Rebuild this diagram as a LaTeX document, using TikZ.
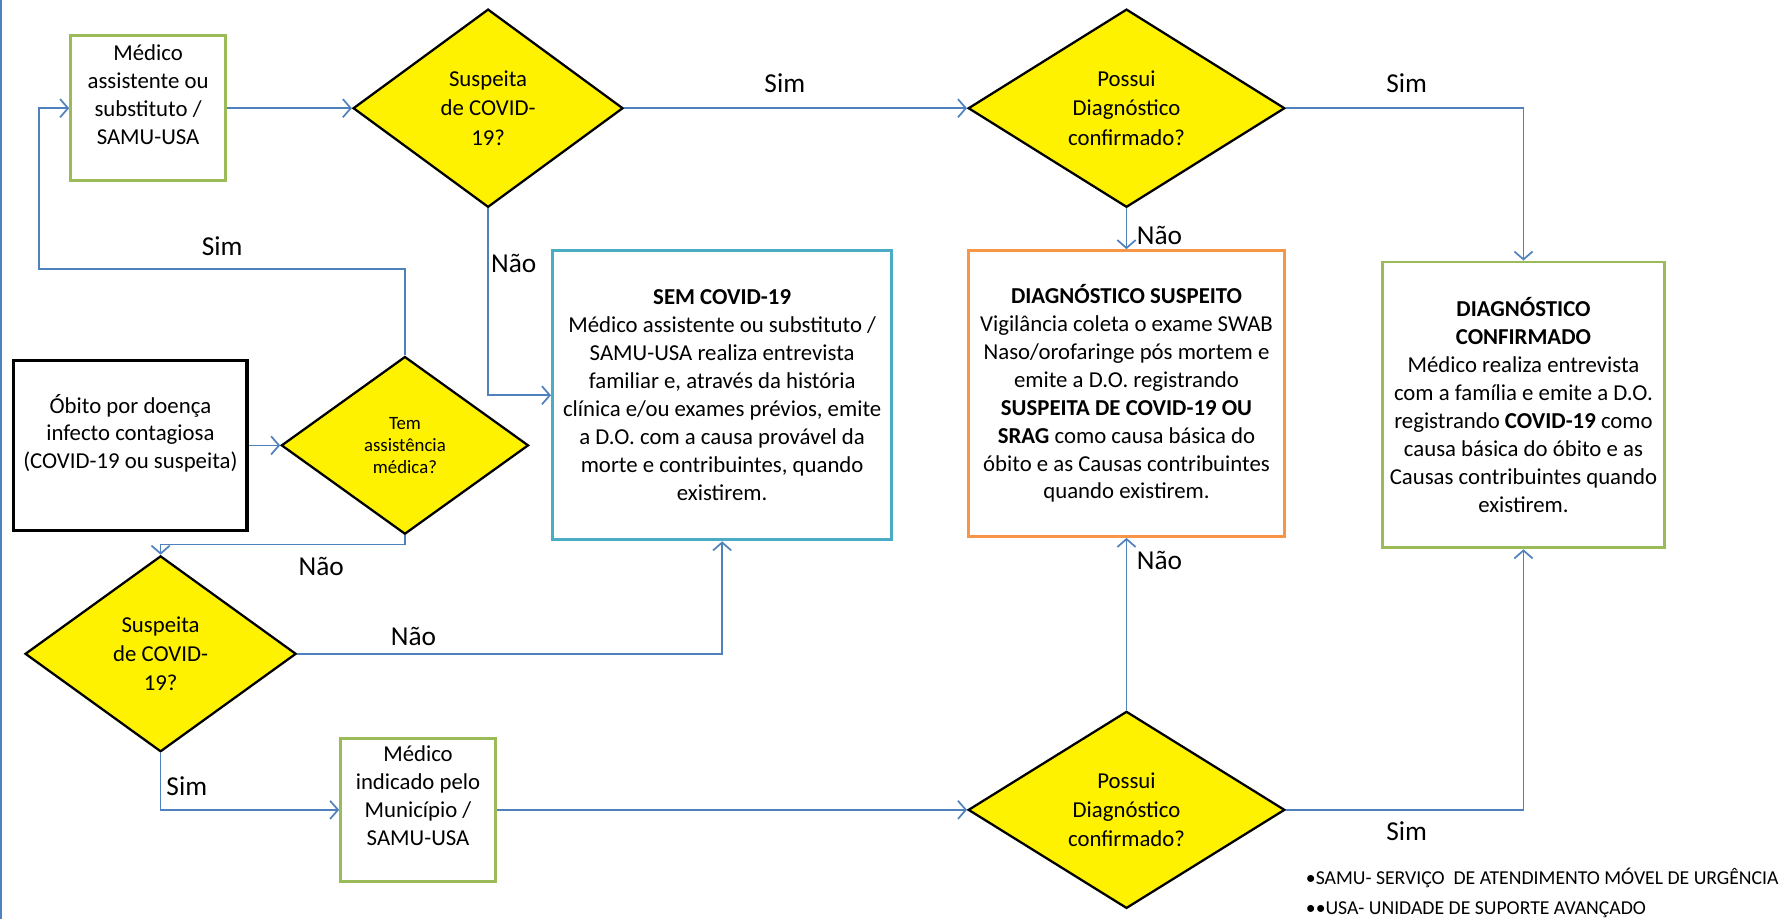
\documentclass[tikz,border=0pt]{standalone}
\usepackage{fontspec}
\setmainfont{Carlito}
\usetikzlibrary{shapes.geometric,arrows.meta}

\definecolor{linhaazul}{RGB}{79,129,189}
\definecolor{verde}{RGB}{155,187,89}
\definecolor{ciano}{RGB}{75,172,198}
\definecolor{laranja}{RGB}{247,150,70}

\tikzset{
  caixa/.style={draw, rectangle, line width=2.5pt, align=center, inner sep=0pt,
    font=\fontsize{20}{24.5}\selectfont},
  losango/.style={diamond, draw=black, line width=2pt, fill=yellow, inner sep=0pt,
    align=center, font=\fontsize{20}{25.5}\selectfont},
  seta/.style={draw=linhaazul, line width=1.5pt, -{Straight Barb[length=7pt,width=16pt]}},
  rotulo/.style={font=\fontsize{24}{28}\selectfont},
  nota/.style={anchor=west, font=\fontsize{17.3}{20}\selectfont},
}

\begin{document}
\begin{tikzpicture}[x=1pt, y=-1pt]
    \useasboundingbox (0,0) rectangle (1568,807);
    \draw[linhaazul, line width=1.5pt] (1,0) -- (1,807);

    % Linha de cima
    \node[caixa, draw=verde, minimum width=136pt, minimum height=127pt] (medico) at (130,95)
        {Médico\\assistente ou\\substituto /\\SAMU-USA\\ \mbox{}};
    \node[losango, minimum width=237pt, minimum height=174pt] (suspeita1) at (428.5,95)
        {Suspeita\\de COVID-\\19?};
    \node[losango, minimum width=278pt, minimum height=174pt] (possui1) at (989,95)
        {Possui\\Diagnóstico\\confirmado?};

    % Caixas de resultado
    \node[caixa, draw=ciano, minimum width=298pt, minimum height=254pt] (semcovid) at (634,347)
        {\textbf{SEM COVID-19}\\Médico assistente ou substituto /\\SAMU-USA realiza entrevista\\familiar e, através da história\\clínica e/ou exames prévios, emite\\a D.O. com a causa provável da\\morte e contribuintes, quando\\existirem.};
    \node[caixa, draw=laranja, minimum width=278pt, minimum height=251pt] (suspeito) at (989,345.5)
        {\textbf{DIAGNÓSTICO SUSPEITO}\\Vigilância coleta o exame SWAB\\Naso/orofaringe pós mortem e\\emite a D.O. registrando\\\textbf{SUSPEITA DE COVID-19 OU}\\\textbf{SRAG} como causa básica do\\óbito e as Causas contribuintes\\quando existirem.};
    \node[caixa, draw=verde, minimum width=247pt, minimum height=251pt] (confirmado) at (1337.5,355.5)
        {\textbf{DIAGNÓSTICO}\\\textbf{CONFIRMADO}\\Médico realiza entrevista\\com a família e emite a D.O.\\registrando \textbf{COVID-19} como\\causa básica do óbito e as\\Causas contribuintes quando\\existirem.};

    % Lado esquerdo
    \node[caixa, draw=black, line width=3pt, minimum width=205pt, minimum height=149pt] (obito) at (114.5,391)
        {Óbito por doença\\infecto contagiosa\\(COVID-19 ou suspeita)\\ \mbox{}};
    \node[losango, font=\fontsize{16.5}{19.5}\selectfont, minimum width=217pt, minimum height=156pt] (assistencia) at (355.5,391)
        {Tem\\assistência\\médica?};
    \node[losango, minimum width=238pt, minimum height=172pt] (suspeita2) at (141,574)
        {Suspeita\\de COVID-\\19?};

    % Linha de baixo
    \node[caixa, draw=verde, minimum width=136pt, minimum height=126pt] (medico2) at (367,711)
        {Médico\\indicado pelo\\Município /\\SAMU-USA\\ \mbox{}};
    \node[losango, minimum width=278pt, minimum height=173pt] (possui2) at (989,711)
        {Possui\\Diagnóstico\\confirmado?};

    \coordinate (volta) at (34,236);
    \coordinate (desce) at (141,478);

    % Setas
    \draw[seta] (medico.east) -- (suspeita1.west);
    \draw[seta] (suspeita1.east) -- (possui1.west);
    \draw[seta] (possui1.east) -| (confirmado.north);
    \draw[seta] (possui1.south) -- (suspeito.north);
    \draw[seta] (suspeita1.south) |- (semcovid.west);
    \draw[seta] (obito.east) -- (assistencia.west);
    \draw[seta] (assistencia.north) |- (volta) |- (medico.west);
    \draw[seta] (assistencia.south) |- (desce) -- (suspeita2.north);
    \draw[seta] (suspeita2.east) -| (semcovid.south);
    \draw[seta] (suspeita2.south) |- (medico2.west);
    \draw[seta] (medico2.east) -- (possui2.west);
    \draw[seta] (possui2.north) -- (suspeito.south);
    \draw[seta] (possui2.east) -| (confirmado.south);

    % Rotulos
    \node[rotulo] (sim1) at (689,73) {Sim};
    \node[rotulo] (sim2) at (1235,73) {Sim};
    \node[rotulo] (nao1) at (1018,207) {Não};
    \node[rotulo] (nao2) at (451,231) {Não};
    \node[rotulo] (sim3) at (195,216) {Sim};
    \node[rotulo] (nao3) at (282,497) {Não};
    \node[rotulo] (nao4) at (363,559) {Não};
    \node[rotulo] (sim4) at (164,690) {Sim};
    \node[rotulo] (nao5) at (1018,492) {Não};
    \node[rotulo] (sim5) at (1235,730) {Sim};

    % Notas
    \node[nota] (nota1) at (1143,771) {•SAMU- SERVIÇO\ \ DE ATENDIMENTO MÓVEL DE URGÊNCIA};
    \node[nota] (nota2) at (1143,799) {••USA- UNIDADE DE SUPORTE AVANÇADO};
\end{tikzpicture}
\end{document}
